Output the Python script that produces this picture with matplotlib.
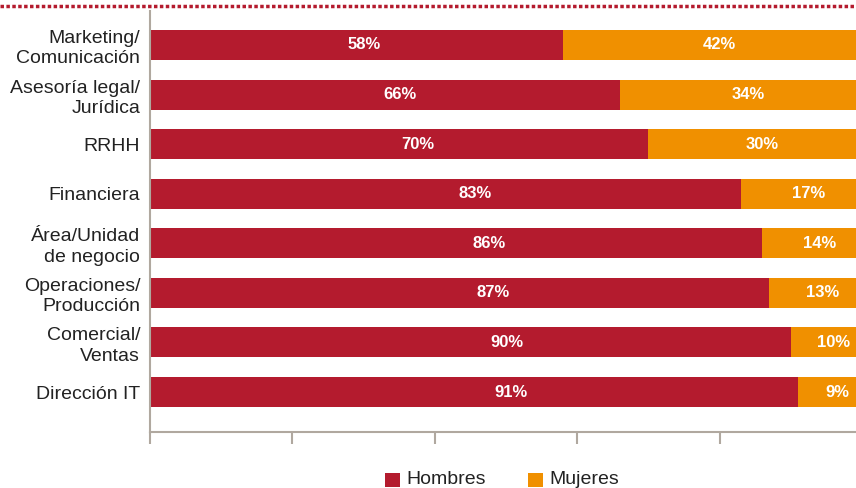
import matplotlib
matplotlib.use("Agg")
import matplotlib.pyplot as plt
from matplotlib.patches import Rectangle
from matplotlib.lines import Line2D
import numpy as np

categories = ["Marketing/\nComunicación", "Asesoría legal/\nJurídica", "RRHH",
              "Financiera", "Área/Unidad\nde negocio", "Operaciones/\nProducción",
              "Comercial/\nVentas", "Dirección IT"]
hombres = [58, 66, 70, 83, 86, 87, 90, 91]
mujeres = [42, 34, 30, 17, 14, 13, 10, 9]
series_names = ["Hombres", "Mujeres"]

RED = "#B41B2E"
ORANGE = "#F09000"
GRAY = "#B0A89F"
TEXT = "#222222"

plt.rcParams["font.family"] = ["Liberation Sans", "DejaVu Sans"]

W, H = 856, 488
fig = plt.figure(figsize=(W / 100, H / 100), dpi=100)
ax = fig.add_axes([150 / W, 1 - 432 / H, 712 / W, (432 - 11) / H])

y = np.arange(len(categories))
bh = 0.605
ax.barh(y, hombres, height=bh, color=RED, edgecolor="none")
ax.barh(y, mujeres, left=hombres, height=bh, color=ORANGE, edgecolor="none")

for yi, h, m in zip(y, hombres, mujeres):
    ax.text(h * 0.628 - 6.4, yi, f"{h}%", ha="center", va="center",
            color="white", fontsize=12, fontweight="bold")
    ax.text(h + m / 2 + 1.0, yi, f"{m}%", ha="center", va="center",
            color="white", fontsize=12, fontweight="bold")

ax.set_xlim(0, 100)
ax.set_ylim(len(categories) - 1 + 0.806, -0.685)
ax.set_yticks(y)
ax.set_yticklabels(categories, fontsize=14, color=TEXT, linespacing=1.25)
ax.tick_params(axis="y", length=0, pad=7)
ax.set_xticks([0, 20, 40, 60, 80, 100])
ax.set_xticklabels([])
ax.tick_params(axis="x", length=8.5, width=1.5, color=GRAY, direction="out")

for s in ["top", "right"]:
    ax.spines[s].set_visible(False)
for s in ["left", "bottom"]:
    ax.spines[s].set_color(GRAY)
    ax.spines[s].set_linewidth(1.5)

# decorative dotted line at top
fig.add_artist(Line2D([0, 1], [1 - 6 / H, 1 - 6 / H], transform=fig.transFigure,
                      color=RED, lw=2.5, linestyle=(0, (1.0, 0.7))))

# legend
for x0, name, col in [(385, series_names[0], RED), (528, series_names[1], ORANGE)]:
    fig.add_artist(Rectangle((x0 / W, 1 - 487 / H), 15 / W, 14 / H,
                             transform=fig.transFigure, color=col, lw=0))
    fig.text((x0 + 21) / W, 1 - 480 / H, name, fontsize=14, color=TEXT,
             ha="left", va="center")

fig.savefig("out.png", dpi=100)
